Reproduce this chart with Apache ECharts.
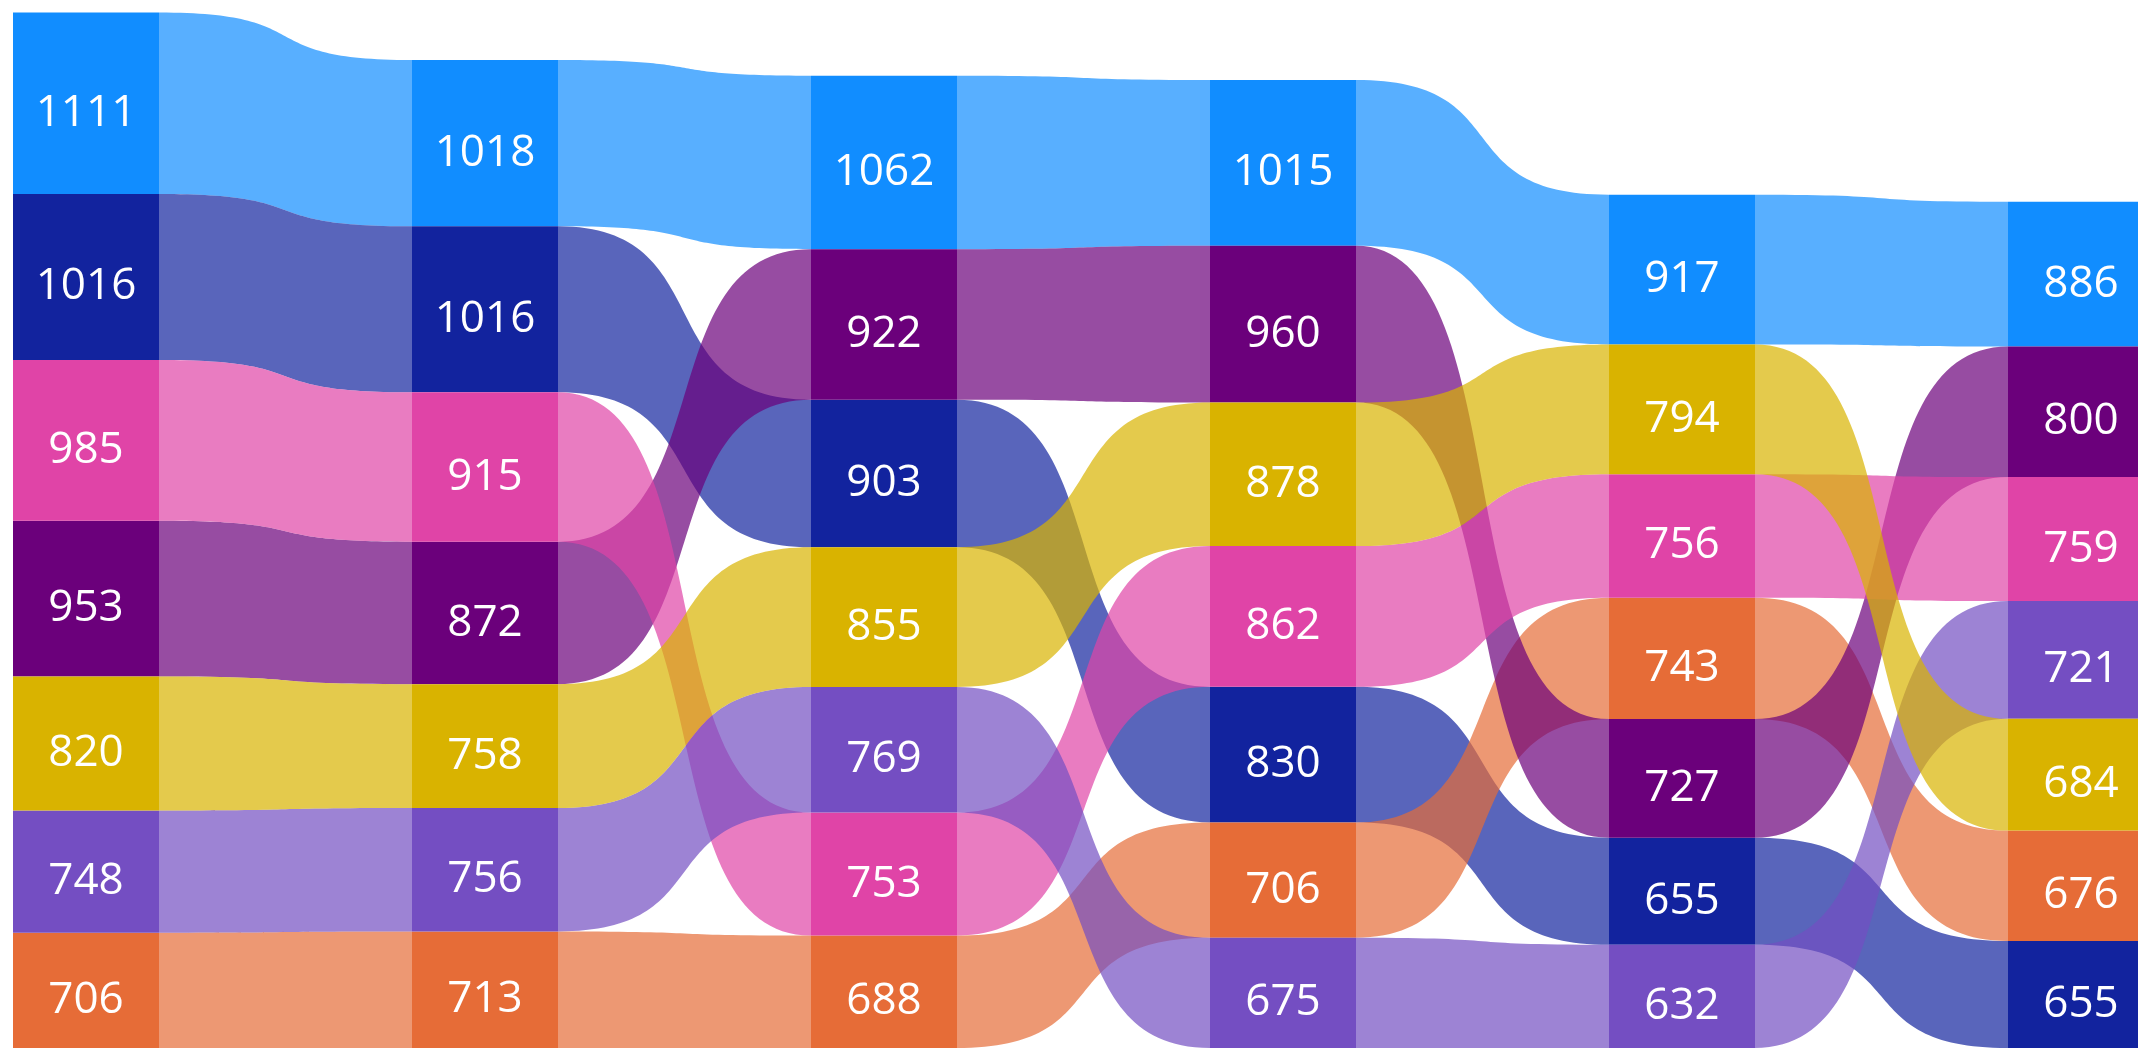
<!DOCTYPE html>
<html>
<head>
<meta charset="utf-8">
<script src="https://cdn.jsdelivr.net/npm/echarts@6/dist/echarts.min.js"></script>
<style>
  html, body { margin: 0; padding: 0; background: #ffffff; }
  #chart { width: 2138px; height: 1048px; }
</style>
</head>
<body>
<div id="chart"></div>
<script>
// ---- Data ----
const categories = ['1', '2', '3', '4', '5', '6'];
const seriesNames = ['Series 1', 'Series 2', 'Series 3', 'Series 4', 'Series 5', 'Series 6', 'Series 7'];
const series1 = [1111, 1018, 1062, 1015, 917, 886];
const series2 = [1016, 1016, 903, 830, 655, 655];
const series3 = [706, 713, 688, 706, 743, 676];
const series4 = [953, 872, 922, 960, 727, 800];
const series5 = [985, 915, 753, 862, 756, 759];
const series6 = [748, 756, 769, 675, 632, 721];
const series7 = [820, 758, 855, 878, 794, 684];
const allValues = [series1, series2, series3, series4, series5, series6, series7];

// ---- Styles ----
const palette = ['#118DFF', '#12239E', '#E66C37', '#6B007B', '#E044A7', '#744EC2', '#D9B300'];
const ribbonOpacity = 0.7;
const barWidthUnits = 146 / 399;
const curveK = 0.65;
const labelFont = '"Segoe UI", "Open Sans", sans-serif';
const labelSize = 44;
const labelDy = 10;

// stack extent (bottom-aligned, largest value on top) for series s at column c
function stackExtent(s, c) {
  const v = allValues[s][c];
  let base = 0;
  for (let t = 0; t < allValues.length; t++) {
    if (t === s) continue;
    const w = allValues[t][c];
    if (w < v || (w === v && t > s)) base += w;
  }
  return [base, base + v];
}

function ribbonRender(s) {
  return function (params, api) {
    const c = api.value(0);
    if (c >= categories.length - 1) return null;
    const bw = api.size([barWidthUnits, 0])[0];
    const e1 = stackExtent(s, c);
    const e2 = stackExtent(s, c + 1);
    const pT1 = api.coord([c, e1[1]]);
    const pB1 = api.coord([c, e1[0]]);
    const pT2 = api.coord([c + 1, e2[1]]);
    const pB2 = api.coord([c + 1, e2[0]]);
    const x1 = pT1[0] + bw / 2;
    const x2 = pT2[0] - bw / 2;
    const dx = x2 - x1;
    const ca = x1 + curveK * dx;
    const cb = x2 - curveK * dx;
    const d = 'M' + x1 + ' ' + pT1[1] +
      ' C' + ca + ' ' + pT1[1] + ' ' + cb + ' ' + pT2[1] + ' ' + x2 + ' ' + pT2[1] +
      ' L' + x2 + ' ' + pB2[1] +
      ' C' + cb + ' ' + pB2[1] + ' ' + ca + ' ' + pB1[1] + ' ' + x1 + ' ' + pB1[1] + ' Z';
    return {
      type: 'path',
      shape: { pathData: d },
      style: { fill: palette[s], opacity: ribbonOpacity }
    };
  };
}

function barRender(s) {
  return function (params, api) {
    const c = api.value(0);
    const v = api.value(1);
    const bw = api.size([barWidthUnits, 0])[0];
    const e = stackExtent(s, c);
    const pT = api.coord([c, e[1]]);
    const pB = api.coord([c, e[0]]);
    return {
      type: 'group',
      children: [
        {
          type: 'rect',
          shape: { x: pT[0] - bw / 2, y: pT[1], width: bw, height: pB[1] - pT[1] },
          style: { fill: palette[s] }
        },
        {
          type: 'text',
          x: pT[0],
          y: (pT[1] + pB[1]) / 2 + labelDy,
          style: {
            text: String(v),
            fill: '#ffffff',
            fontSize: labelSize,
            fontFamily: labelFont,
            align: 'center',
            verticalAlign: 'middle'
          }
        }
      ]
    };
  };
}

const seriesList = [];
allValues.forEach(function (vals, s) {
  seriesList.push({
    type: 'custom', name: seriesNames[s], z: 1,
    renderItem: ribbonRender(s),
    data: vals.map(function (v, c) { return [c, v]; }), silent: true
  });
});
allValues.forEach(function (vals, s) {
  seriesList.push({
    type: 'custom', name: seriesNames[s], z: 2,
    renderItem: barRender(s),
    data: vals.map(function (v, c) { return [c, v]; }), silent: true
  });
});

const chart = echarts.init(document.getElementById('chart'), null, { renderer: 'canvas' });
chart.setOption({
  animation: false,
  backgroundColor: '#ffffff',
  grid: { left: 0, top: 0, width: 2138, height: 1051.5 },
  xAxis: { type: 'value', min: -86 / 399, max: (2138 - 86) / 399, show: false },
  yAxis: { type: 'value', min: 0, max: 1051.5 / 0.1639, show: false },
  series: seriesList
});
</script>
</body>
</html>
